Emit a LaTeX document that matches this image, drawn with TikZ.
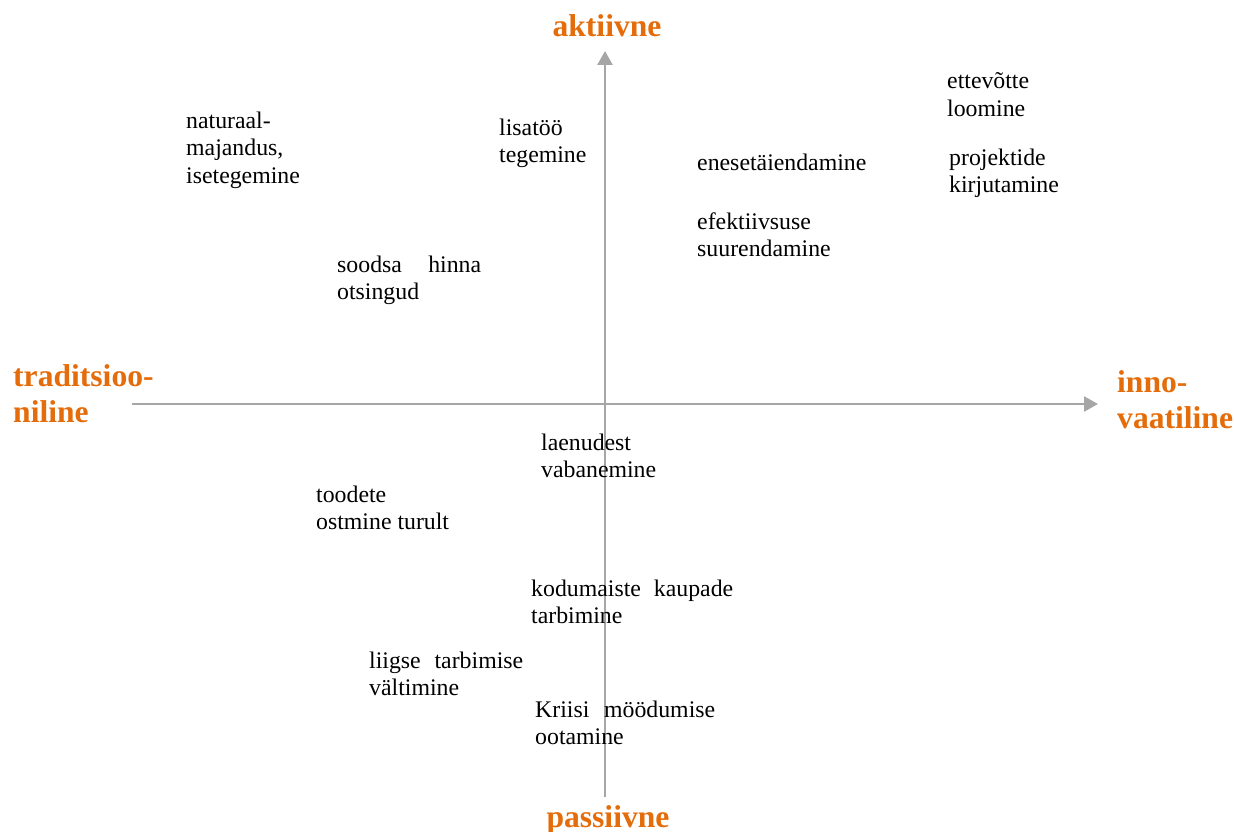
\documentclass[tikz,border=0pt]{standalone}
\usepackage{fontspec}
\setmainfont{Liberation Serif}
\usepackage{tikz}
\usetikzlibrary{arrows.meta,positioning}
\definecolor{axislabel}{HTML}{E46C0A}
\definecolor{axisline}{HTML}{A6A6A6}
% first line of a justified two-line label
\newcommand{\spreadline}[2]{\makebox[#1pt][s]{#2}}

\begin{document}
\begin{tikzpicture}[
  x=1pt, y=-1pt,
  item/.style={anchor=base west, inner sep=0pt, align=left,
               font=\fontsize{23.8}{27.6}\selectfont},
  pole/.style={inner sep=0pt, align=left, text=axislabel,
               font=\fontsize{31.6}{36.4}\selectfont\bfseries},
  axis/.style={-{Triangle[length=14pt,width=15pt]}, line width=2.6pt, axisline},
]
\useasboundingbox (0,0) rectangle (1234,832);

% axes
\coordinate (xl) at (132,404);
\coordinate (xr) at (1098,404);
\coordinate (yb) at (605,797);
\coordinate (yt) at (605,51);
\draw[axis] (xl) -- (xr);
\draw[axis] (yb) -- (yt);

% axis ends (base = baseline of the last line)
\node[pole, anchor=base] (akt) at (607,37) {aktiivne};
\node[pole, anchor=base] (pass) at (608,827) {passiivne};
\node[pole, anchor=base west] (trad) at (13,422.4) {traditsioo-\\niline};
\node[pole, anchor=base west] (inno) at (1117,428.4) {inno-\\vaatiline};

% upper half
\node[item] (natur) at (186,183.2) {naturaal-\\majandus,\\isetegemine};
\node[item] (lisa) at (499,162.6) {lisatöö\\tegemine};
\node[item] (enese) at (697,170) {enesetäiendamine};
\node[item] (ettev) at (947,116.6) {ettevõtte\\loomine};
\node[item] (proj) at (949,192.6) {projektide\\kirjutamine};
\node[item] (efekt) at (697,256.6) {efektiivsuse\\suurendamine};
\node[item] (sood) at (337,299.6) {\spreadline{144}{soodsa hinna}\\otsingud};

% lower half
\node[item] (laen) at (541,477.6) {laenudest\\vabanemine};
\node[item] (tood) at (316,529.6) {toodete\\ostmine turult};
\node[item] (kodu) at (531,623.6) {\spreadline{202}{kodumaiste kaupade}\\tarbimine};
\node[item] (liig) at (369,695.6) {\spreadline{154}{liigse tarbimise}\\vältimine};
\node[item] (kriis) at (535,744.6) {\spreadline{180}{Kriisi möödumise}\\ootamine};

\end{tikzpicture}
\end{document}
